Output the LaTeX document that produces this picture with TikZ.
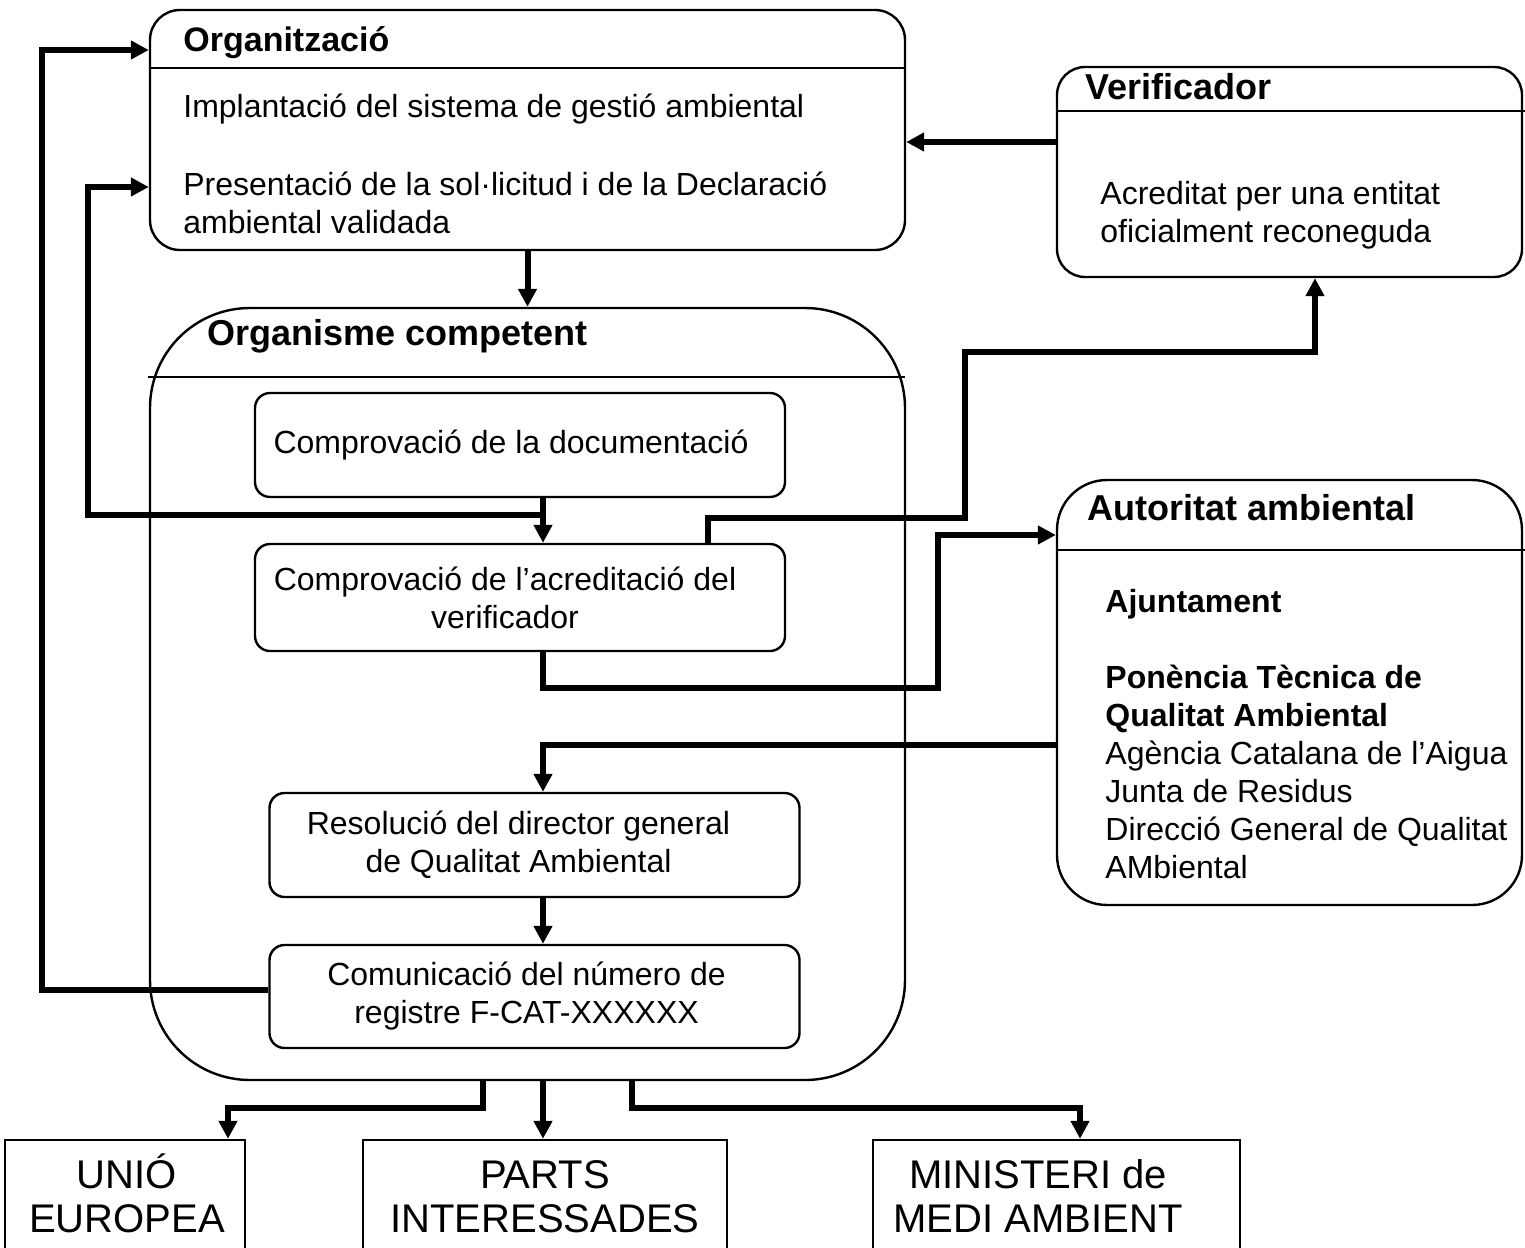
\documentclass[tikz,border=0pt]{standalone}
\usepackage{fontspec}
\setmainfont{Liberation Sans}
\usetikzlibrary{arrows.meta,fit}
\begin{document}
\begin{tikzpicture}[x=0.5pt,y=-0.5pt,
  boxline/.style={draw,line width=1.2pt},
  panel/.style={boxline,rectangle,inner sep=0pt},
  stepbox/.style={boxline,rectangle,rounded corners=7.5pt,inner sep=0pt,
    minimum width=265pt,minimum height=52pt},
  endbox/.style={boxline,rectangle,inner sep=0pt},
  flow/.style={line width=3pt,-{Triangle[length=9pt,width=9pt]}},
  body/.style={font=\fontsize{16}{19}\selectfont,inner sep=0pt},
  head/.style={font=\fontsize{18}{21}\selectfont\bfseries,inner sep=0pt,anchor=base west},
  big/.style={font=\fontsize{20}{22}\selectfont,inner sep=0pt,align=center,anchor=base},
]
\useasboundingbox (0,0) rectangle (1525,1247);
\clip (0,0) rectangle (1525,1247);

% ---------- main panels ----------
% (multi-line text nodes are placed by the baseline of their last line)
\node[panel,rounded corners=15pt,fit={(150,10) (905,250)}] (org) {};
\draw[line width=1.2pt] (150,68) -- (905,68);
\node[head,font=\fontsize{17}{20}\selectfont\bfseries] (orgT) at (183,52) {Organització};
\node[body,anchor=base west] (orgA) at (183,118) {Implantació del sistema de gestió ambiental};
\node[body,anchor=base west,align=left] (orgB) at (183,233)
  {Presentació de la sol·licitud i de la Declaració\\ambiental validada};

\node[panel,rounded corners=14pt,fit={(1057,67) (1522,277)}] (ver) {};
\draw[line width=1.2pt] (1057,111) -- (1525,111);
\node[head] (verT) at (1085,100) {Verificador};
\node[body,anchor=base west,align=left] (verB) at (1100,242)
  {Acreditat per una entitat\\oficialment reconeguda};

\node[panel,rounded corners=50pt,fit={(150,308) (905,1080)}] (comp) {};
\draw[line width=1.2pt] (148,377) -- (905,377);
\node[head] (compT) at (207,345) {Organisme competent};

\node[panel,rounded corners=25pt,fit={(1057,480) (1522,905)}] (aut) {};
\draw[line width=1.2pt] (1057,550) -- (1525,550);
\node[head] (autT) at (1087,520) {Autoritat ambiental};
\node[body,anchor=base west,align=left] (autB) at (1105,878)
  {\textbf{Ajuntament}\\[19pt]
   \textbf{Ponència Tècnica de}\\
   \textbf{Qualitat Ambiental}\\
   Agència Catalana de l’Aigua\\
   Junta de Residus\\
   Direcció General de Qualitat\\
   AMbiental};

% ---------- steps inside the competent body ----------
\node[stepbox] (c1) at (520,445) {};
\node[body,align=center] (c1t) at ([xshift=-4.5pt]c1.center) {Comprovació de la documentació};
\node[stepbox,minimum height=53.5pt] (c2) at (520,597.5) {};
\node[body,align=center] (c2t) at ([xshift=-7.5pt]c2.center) {Comprovació de l’acreditació del\\verificador};
\node[stepbox] (c3) at (534.5,845) {};
\node[body,align=center] (c3t) at ([xshift=-8pt]c3.center) {Resolució del director general\\de Qualitat Ambiental};
\node[stepbox,minimum height=51.5pt] (c4) at (534.5,996.5) {};
\node[body,align=center] (c4t) at ([xshift=-4pt]c4.center) {Comunicació del número de\\registre F-CAT-XXXXXX};

% ---------- recipients ----------
\node[endbox,fit={(5,1140) (245,1300)}] (ue) {};
\node[big] (uet) at (127,1232) {UNIÓ\\EUROPEA};
\node[endbox,fit={(363,1140) (727,1300)}] (pi) {};
\node[big] (pit) at (545,1232) {PARTS\\INTERESSADES};
\node[endbox,fit={(873,1140) (1240,1300)}] (mma) {};
\node[big] (mmat) at (1038,1232) {MINISTERI de\\MEDI AMBIENT};

% ---------- bend points ----------
\coordinate (p1) at (543,515);
\coordinate (q1) at (88,515);
\coordinate (q2) at (88,187);
\coordinate (v0) at (708,518);
\coordinate (v1) at (965,352);
\coordinate (v2) at (1315,352);
\coordinate (a0) at (543,688);
\coordinate (a1) at (938,535);
\coordinate (r0) at (543,745);
\coordinate (b0) at (42,990);
\coordinate (b1) at (42,50);
\coordinate (h0) at (1000,142);
\coordinate (d1) at (483,1108);
\coordinate (e1) at (228,1108);
\coordinate (d2) at (632,1108);
\coordinate (e2) at (1080,1108);

% ---------- connectors ----------
\draw[flow] (org.south) -- (comp.north);
\draw[flow] (ver.west |- h0) -- (org.east |- h0);
\draw[flow] (c1.south -| p1) -- (c2.north -| p1);
\draw[flow] (p1) -- (q1) -- (q2) -- (org.west |- q2);
\draw[flow] (c2.north -| v0) -- (v0) -| (v1) -- (v2) -- (ver.south -| v2);
\draw[flow] (c2.south -| a0) -- (a0) -| (a1) -- (aut.west |- a1);
\draw[flow] (aut.west |- r0) -- (r0) -- (c3.north -| r0);
\draw[flow] (c3.south -| r0) -- (c4.north -| r0);
\draw[flow] (c4.west |- b0) -- (b0) -- (b1) -- (org.west |- b1);
\draw[flow] (comp.south -| d1) -- (d1) -- (e1) -- (ue.north -| e1);
\draw[flow] (comp.south -| r0) -- (pi.north -| r0);
\draw[flow] (comp.south -| d2) -- (d2) -- (e2) -- (mma.north -| e2);
\end{tikzpicture}
\end{document}
